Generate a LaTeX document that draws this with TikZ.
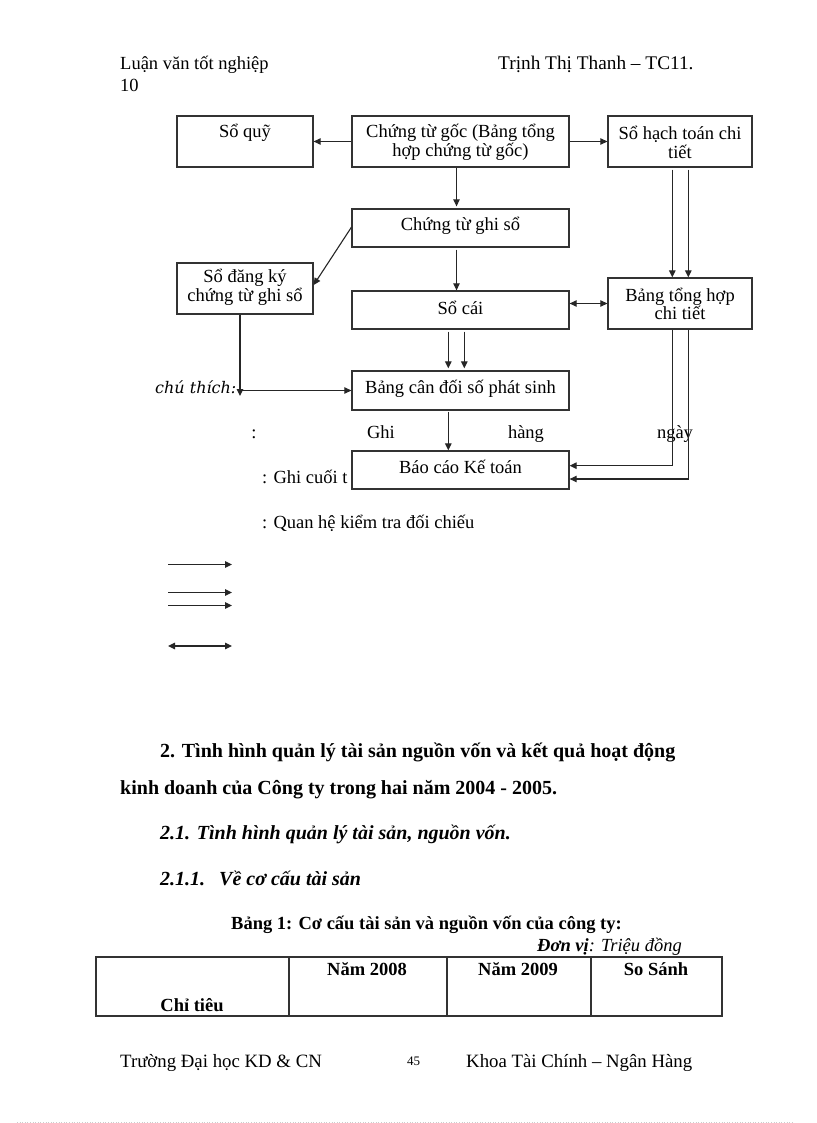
\documentclass[tikz,border=0pt]{standalone}
\usepackage{fontspec}
\setmainfont{Liberation Serif}
\newfontfamily\chufont{DejaVu Serif}
\usetikzlibrary{arrows.meta,calc}
\newcommand{\fs}{\fontsize{18.5}{18.5}\selectfont}
\newcommand{\fh}{\fontsize{20}{20}\selectfont}
\begin{document}
\begin{tikzpicture}[x=1pt,y=-1pt,
  box/.style={draw=black!80, line width=1.3pt, fill=white, inner sep=0pt, rectangle},
  lbl/.style={font=\fs, align=center, inner sep=0pt},
  arr/.style={draw=black!85, line width=1.1pt, -{Triangle[length=7pt,width=6.5pt]}},
  barr/.style={draw=black!85, line width=1.1pt, {Triangle[length=7pt,width=6.5pt]}-{Triangle[length=7pt,width=6.5pt]}},
  plain/.style={anchor=base west, inner sep=0pt, font=\fs},
  hd/.style={anchor=base west, inner sep=0pt, font=\fh\bfseries},
  th/.style={anchor=base, inner sep=0pt, font=\fs\bfseries},
  tline/.style={draw=black!80, line width=1.3pt}]
\useasboundingbox[fill=white] (0,0) rectangle (816,1123);

% header
\node[plain] (h1) at (120,70) {Luận văn tốt nghiệp};
\node[plain] (h2) at (120,91.7) {10};
\node[plain, font=\fontsize{19.3}{19.3}\selectfont] (h3) at (498,70) {Trịnh Thị Thanh – TC11.};

% legend texts (drawn below the boxes)
\node[anchor=base west, inner sep=0pt, font=\chufont\itshape\fontsize{16}{16}\selectfont] (chu) at (155,393) {chú thích:};
\node[lbl, anchor=base] (l0) at (254,438) {:};
\node[lbl, anchor=base] (l1) at (381,438) {Ghi};
\node[lbl, anchor=base] (l2) at (526,438) {hàng};
\node[lbl, anchor=base] (l3) at (675,438) {ngày};
\node[lbl, anchor=base west] (l4) at (262,483.3) {: Ghi cuối t};
\node[lbl, anchor=base west] (l5) at (262,528.3) {: Quan hệ kiểm tra đối chiếu};

% boxes
\node[box, minimum width=136pt, minimum height=51pt] (soquy) at (245,141.5) {};
\node[box, minimum width=217pt, minimum height=51pt] (goc) at (460.5,141.5) {};
\node[box, minimum width=144pt, minimum height=51pt] (hach) at (680,141.5) {};
\node[box, minimum width=217pt, minimum height=38pt] (ghiso) at (460.5,228) {};
\node[box, minimum width=136pt, minimum height=51pt] (dangky) at (245,288.5) {};
\node[box, minimum width=217pt, minimum height=38pt] (socai) at (460.5,310) {};
\node[box, minimum width=144pt, minimum height=51pt] (tonghop) at (680,303.5) {};
\node[box, minimum width=217pt, minimum height=39pt] (candoi) at (460.5,390.5) {};
\node[box, minimum width=217pt, minimum height=38pt] (baocao) at (460.5,470) {};

% box texts
\node[lbl] (tsoquy) at (245,133) {Sổ quỹ};
\node[lbl] (tgoc) at (460.5,142.3) {Chứng từ gốc (Bảng tổng\\hợp chứng từ gốc)};
\node[lbl] (thach) at (680,142.3) {Sổ hạch toán chi\\tiết};
\node[lbl] (tghiso) at (460.5,225.7) {Chứng từ ghi sổ};
\node[lbl] (tdangky) at (245,287.5) {Sổ đăng ký\\chứng từ ghi sổ};
\node[lbl] (tsocai) at (460.5,307.7) {Sổ cái};
\node[lbl] (ttonghop) at (680,304) {Bảng tổng hợp\\chi tiết};
\node[lbl] (tcandoi) at (460.5,388.3) {Bảng cân đối số phát sinh};
\node[lbl] (tbaocao) at (460.5,466.7) {Báo cáo Kế toán};

% connectors
\draw[arr] (goc.west) -- (soquy.east);
\draw[arr] (goc.east) -- (hach.west);
\draw[arr, shorten >=2pt] ([xshift=-4pt]goc.south) -- ([xshift=-4pt]ghiso.north);
\draw[arr, shorten <=2pt] ([xshift=-4pt]ghiso.south) -- ([xshift=-4pt]socai.north);
\draw[arr] ([yshift=0.7pt]ghiso.west) -- ([yshift=3.5pt]dangky.east);
\coordinate (cdown) at (240,396);
\coordinate (cj) at (240,390.5);
\draw[arr] ([xshift=-5pt]dangky.south) -- (cdown);
\draw[arr] (cj) -- (candoi.west);
\draw[arr, shorten <=2pt, shorten >=2pt] ([xshift=-12.2pt]socai.south) -- ([xshift=-12.2pt]candoi.north);
\draw[arr, shorten <=2pt, shorten >=2pt] ([xshift=3.8pt]socai.south) -- ([xshift=3.8pt]candoi.north);
\draw[arr, shorten <=2pt] ([xshift=-7.7pt]hach.south) -- ([xshift=-7.7pt]tonghop.north);
\draw[arr, shorten <=2pt] ([xshift=8.3pt]hach.south) -- ([xshift=8.3pt]tonghop.north);
\draw[barr] (socai.east |- tonghop.west) -- (tonghop.west);
\draw[arr, shorten <=1pt] ([xshift=-12.2pt]candoi.south) -- ([xshift=-12.2pt]baocao.north);
\draw[arr] ([xshift=-7.7pt]tonghop.south) |- ([yshift=4.3pt]baocao.east);
\draw[arr] ([xshift=8.3pt]tonghop.south) |- ([yshift=-9pt]baocao.east);

% legend arrows
\coordinate (a1) at (168,564.5); \coordinate (b1) at (232,564.5);
\coordinate (a2) at (168,592.5); \coordinate (b2) at (232,592.5);
\coordinate (a3) at (168,605.5); \coordinate (b3) at (232,605.5);
\coordinate (a4) at (168,646);   \coordinate (b4) at (232,646);
\draw[arr] (a1) -- (b1);
\draw[arr] (a2) -- (b2);
\draw[arr] (a3) -- (b3);
\draw[barr] (a4) -- (b4);

% headings
\node[hd] (s1) at (160,757.3) {2. Tình hình quản lý tài sản nguồn vốn và kết quả hoạt động};
\node[hd] (s2) at (120,794) {kinh doanh của Công ty trong hai năm 2004 - 2005.};
\node[hd, font=\fh\bfseries\itshape] (s3) at (160,839.3) {2.1. Tình hình quản lý tài sản, nguồn vốn.};
\node[hd, font=\fh\bfseries\itshape] (s4) at (160,885) {2.1.1.\hspace{14pt}Về cơ cấu tài sản};
\node[hd, font=\fs\bfseries] (s5) at (231,929) {Bảng 1: Cơ cấu tài sản và nguồn vốn của công ty:};
\node[anchor=base east, inner sep=0pt, font=\fs] (s6) at (682,951.7) {{\bfseries\itshape Đơn vị}\itshape: Triệu đồng};

% table
\draw[tline] (96,957) rectangle (722,1016);
\draw[tline] (289,957) -- (289,1016);
\draw[tline] (447,957) -- (447,1016);
\draw[tline] (591,957) -- (591,1016);
\node[th] (c1) at (367,975.7) {Năm 2008};
\node[th] (c2) at (518,975.7) {Năm 2009};
\node[th] (c3) at (656,975.7) {So Sánh};
\node[th] (c0) at (192,1011.7) {Chỉ tiêu};

% footer
\node[plain, font=\fontsize{18.8}{18.8}\selectfont] (f1) at (120,1067.7) {Trường Đại học KD \& CN};
\node[plain, font=\fontsize{13}{14}\selectfont] (f2) at (407,1065) {45};
\node[plain, font=\fontsize{18.8}{18.8}\selectfont] (f3) at (466,1067.7) {Khoa Tài Chính – Ngân Hàng};
\draw[gray!40, dotted, line width=0.6pt] (17,1122) -- (793,1122);
\end{tikzpicture}
\end{document}
